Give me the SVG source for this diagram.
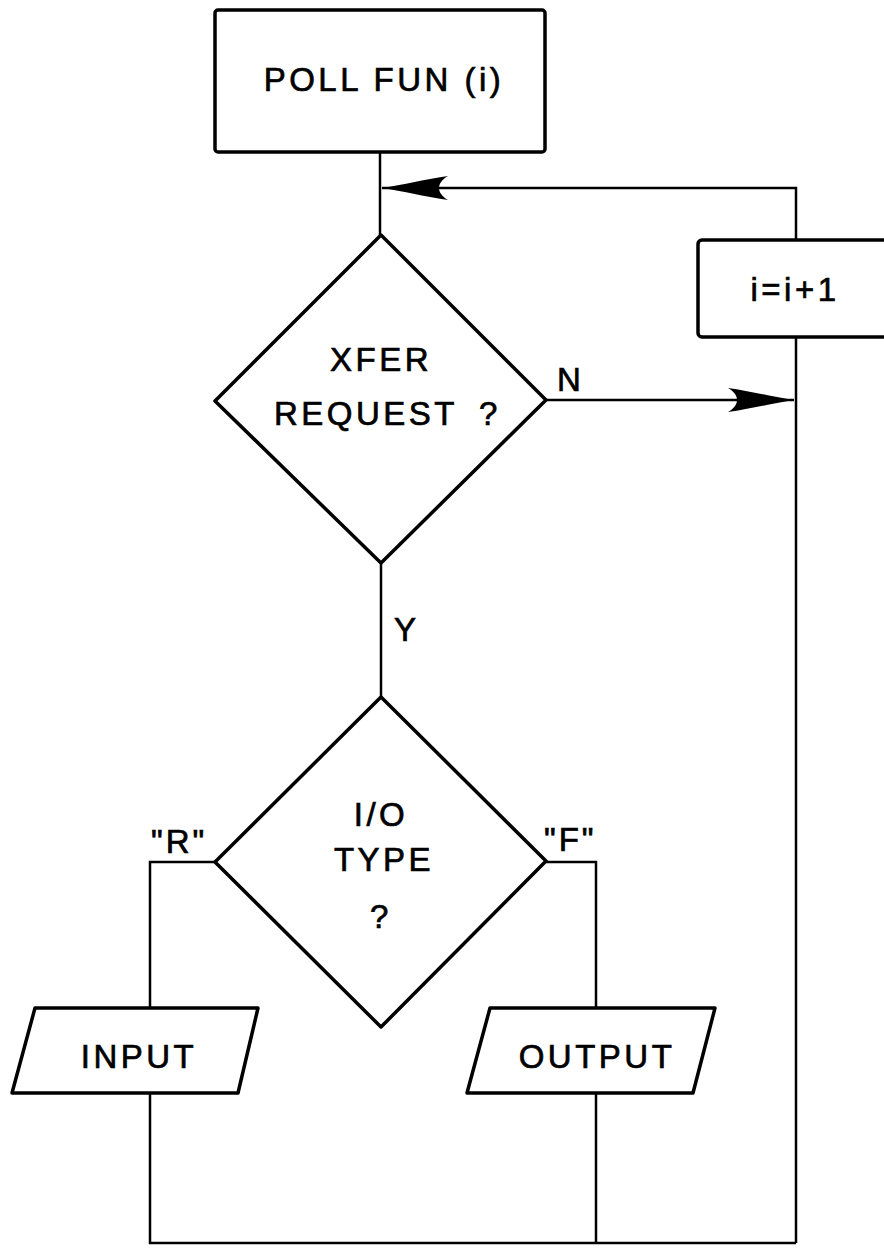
<svg xmlns="http://www.w3.org/2000/svg" width="884" height="1254" viewBox="0 0 884 1254">
<style>
.shape{fill:#fff;stroke:#000;stroke-width:3.5;stroke-linejoin:round}
.conn{fill:none;stroke:#000;stroke-width:2.5}
.t{font-family:"Liberation Sans",Arial,sans-serif;font-size:33px;letter-spacing:3.5px;fill:#000;stroke:#000;stroke-width:0.7;text-anchor:middle}
.lbl{font-family:"Liberation Sans",Arial,sans-serif;font-size:33px;letter-spacing:3px;fill:#000;stroke:#000;stroke-width:0.7}
</style>
<defs>
<marker id="barb" viewBox="-68 -14 70 28" refX="0" refY="0" markerWidth="70" markerHeight="28" markerUnits="userSpaceOnUse" orient="auto">
<path d="M0,0 C-20,-3 -45,-9 -66,-12 C-54,-5 -54,5 -66,12 C-45,9 -20,3 0,0 Z" fill="#000"/>
</marker>
</defs>
<g id="connectors">
<path class="conn" d="M380,152 V235"/>
<path class="conn" d="M796,240 V188 H382" marker-end="url(#barb)"/>
<path class="conn" d="M546,400 H794" marker-end="url(#barb)"/>
<path class="conn" d="M796,337 V1243"/>
<path class="conn" d="M381,563 V697"/>
<path class="conn" d="M215,862 H150 V1008"/>
<path class="conn" d="M546,862 H596 V1008"/>
<path class="conn" d="M150,1093 V1243 H796"/>
<path class="conn" d="M596,1093 V1243"/>
</g>
<g id="poll">
<rect class="shape" x="215" y="10" width="330" height="142" rx="3"/>
<text class="t" x="384" y="91">POLL FUN (i)</text>
</g>
<g id="incr">
<rect class="shape" x="698" y="240" width="200" height="97" rx="4"/>
<text class="t" x="795" y="301">i=i+1</text>
</g>
<g id="xfer">
<polygon class="shape" points="381,235 546,400 381,563 215,401"/>
<text class="t" x="381" y="371">XFER</text>
<text class="t" x="366" y="425">REQUEST</text>
<text class="t" x="490" y="425">?</text>
</g>
<g id="iotype">
<polygon class="shape" points="381,697 546,861 381,1027 215,862"/>
<text class="t" x="381" y="826">I/O</text>
<text class="t" x="384" y="871">TYPE</text>
<text class="t" x="381" y="928">?</text>
</g>
<g id="input">
<polygon class="shape" points="35,1008 258,1008 238,1093 12,1093"/>
<text class="t" x="139" y="1068">INPUT</text>
</g>
<g id="output">
<polygon class="shape" points="490,1008 715,1008 693,1093 467,1093"/>
<text class="t" x="597" y="1068">OUTPUT</text>
</g>
<g id="labels">
<text class="lbl" x="557" y="391">N</text>
<text class="lbl" x="394" y="641">Y</text>
<text class="lbl" x="151" y="853">"R"</text>
<text class="lbl" x="544" y="851">"F"</text>
</g>
</svg>
